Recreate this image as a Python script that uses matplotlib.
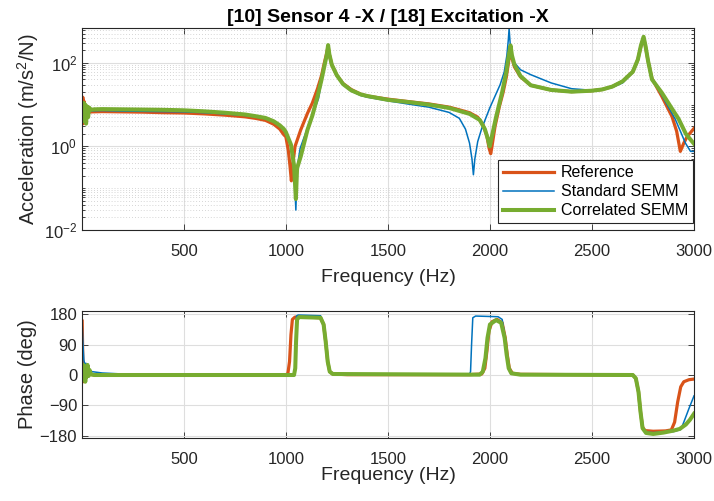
import numpy as np
import matplotlib
matplotlib.use('Agg')
from matplotlib import pyplot as plt
from matplotlib.ticker import FixedLocator, NullLocator, NullFormatter

plt.rcParams['font.family'] = ['Liberation Sans', 'DejaVu Sans']
plt.rcParams['mathtext.fontset'] = 'custom'
plt.rcParams['mathtext.rm'] = 'Liberation Sans'

# -- magnitude (m/s^2/N) --
ref_f = [2, 5, 8, 11, 14, 18, 25, 50, 100, 200, 300, 400, 500, 600, 700, 800, 850, 900,
         940, 970, 990, 1000, 1012, 1020, 1027, 1033, 1045, 1073, 1106, 1130, 1155, 1175, 1188,
         1200, 1207, 1213, 1225, 1250, 1280, 1320, 1367, 1400, 1500, 1600, 1700, 1800, 1850,
         1900, 1940, 1965, 1985, 1996, 2004, 2010, 2025, 2045, 2065, 2080, 2092, 2101, 2108,
         2120, 2150, 2200, 2300, 2400, 2500, 2550, 2600, 2650, 2700, 2725, 2740, 2753, 2762,
         2775, 2794, 2843, 2892, 2915, 2933, 2950, 2966, 2985, 3000]
ref_mag = [4, 15, 3.5, 12, 5, 7.5, 6.5, 6.7, 6.8, 6.7, 6.6, 6.4, 6.3, 6.0, 5.6, 5.1, 4.7, 4.2,
           3.4, 2.6, 1.9, 1.7, 0.8, 0.35, 0.15, 0.35, 1.0, 2.5, 6.2, 11, 24, 50, 97,
           170, 250, 160, 90, 50, 32, 23, 17.7, 16, 13.5, 11.8, 10.4, 8.7, 7.5,
           6.4, 5.0, 3.4, 1.8, 0.9, 0.67, 1.0, 3.0, 8.5, 20, 45, 110, 200, 130,
           80, 46, 29, 22.4, 20.4, 21.5, 23, 27, 36, 61, 120, 250, 400, 250,
           110, 42, 15.5, 5.2, 2.3, 0.76, 1.2, 1.7, 2.2, 2.7]

std_f = [2, 5, 9, 13, 17, 22, 30, 50, 100, 200, 300, 400, 500, 600, 700, 800, 850, 900,
         940, 970, 990, 1000, 1025, 1040, 1049, 1055, 1070, 1100, 1130, 1160, 1188, 1200, 1207,
         1213, 1225, 1250, 1280, 1320, 1367, 1400, 1500, 1600, 1700, 1800, 1850, 1880, 1900,
         1912, 1919, 1926, 1940, 1960, 2000, 2050, 2070, 2083, 2090, 2094, 2100, 2110, 2120,
         2150, 2200, 2300, 2400, 2500, 2600, 2650, 2700, 2725, 2740, 2753, 2762, 2775, 2794,
         2843, 2908, 2958, 2983, 3000]
std_mag = [6, 9, 5, 8, 6, 7.5, 7, 7.1, 7.2, 7.0, 6.9, 6.8, 6.7, 6.4, 6.0, 5.5, 5.1, 4.6,
           3.9, 3.1, 2.4, 2.0, 1.0, 0.3, 0.03, 0.3, 0.9, 2.3, 5.5, 14, 80, 160, 260,
           160, 90, 50, 30, 21, 16.5, 15, 12.3, 10.3, 8.7, 6.5, 4.7, 2.6, 1.2,
           0.5, 0.21, 0.5, 1.3, 2.7, 8.5, 30, 60, 150, 350, 650, 250, 140, 100,
           68, 52, 33, 24, 22, 26, 33, 58, 115, 240, 400, 240, 105, 42,
           16.5, 4.5, 1.2, 0.76, 0.76]

cor_f = [2, 5, 9, 13, 17, 21, 26, 31, 36, 45, 60, 100, 200, 300, 400, 500, 600, 700, 800,
         850, 900, 940, 970, 990, 1000, 1025, 1040, 1049, 1055, 1073, 1106, 1130, 1155, 1175,
         1188, 1200, 1207, 1213, 1225, 1250, 1280, 1320, 1367, 1400, 1500, 1600, 1700, 1800,
         1900, 1950, 1975, 1990, 1999, 2008, 2030, 2060, 2080, 2092, 2101, 2108, 2120, 2150,
         2200, 2300, 2400, 2500, 2550, 2600, 2650, 2700, 2725, 2740, 2753, 2762, 2775, 2794,
         2843, 2892, 2925, 2960, 3000]
cor_mag = [6, 4, 11, 4, 10, 3.5, 9, 5, 8.5, 7.5, 7.7, 7.8, 7.7, 7.6, 7.5, 7.3, 6.9, 6.4, 5.8,
           5.3, 4.8, 4.0, 3.2, 2.6, 2.2, 1.1, 0.35, 0.055, 0.3, 0.58, 2.5, 5.5, 15.5, 40,
           80, 150, 265, 160, 90, 50, 31, 22, 17.5, 16, 13, 11.5, 10, 8.3,
           6.0, 4.3, 2.6, 1.5, 1.0, 1.6, 5, 20, 60, 150, 260, 150, 90, 48,
           29, 22.4, 20.4, 21.5, 23, 27, 36, 61, 120, 260, 420, 260, 110, 40,
           19, 8, 4.5, 2.0, 1.15]

# -- phase (deg) --
ref_pf = [2, 5, 9, 14, 20, 30, 50, 100, 1000, 1010, 1018, 1025, 1032, 1045, 1100, 1170, 1185,
          1195, 1205, 1215, 1230, 1300, 1900, 1960, 1975, 1985, 1995, 2010, 2035, 2060, 2075,
          2085, 2095, 2110, 2150, 2700, 2715, 2728, 2738, 2748, 2760, 2800, 2860, 2889, 2905,
          2920, 2935, 2950, 2975, 3000]
ref_ph = [160, 40, -20, 10, 5, 3, 1, 0, 0, 5, 40, 120, 165, 172, 172, 170, 150,
          100, 40, 10, 3, 1, 1, 3, 20, 70, 130, 158, 165, 155, 110,
          60, 20, 5, 2, 0, -10, -50, -110, -155, -165, -167, -166, -163, -140,
          -80, -35, -20, -14, -12]

std_pf = [2, 6, 10, 15, 20, 30, 50, 100, 200, 400, 1040, 1045, 1048, 1052, 1060, 1170, 1185,
          1195, 1205, 1215, 1230, 1300, 1900, 1905, 1910, 1916, 1930, 2040, 2060, 2075, 2085,
          2095, 2110, 2150, 2700, 2715, 2728, 2738, 2748, 2765, 2800, 2900, 2935, 2950, 2975,
          3000]
std_ph = [150, 90, 45, 30, 35, 18, 10, 6, 3, 1, 0, 5, 90, 175, 178, 176, 150,
          100, 40, 10, 3, 1, 2, 10, 90, 170, 175, 173, 165, 110, 55,
          18, 5, 2, 0, -10, -50, -110, -155, -170, -171, -168, -162, -140, -100,
          -62]

cor_pf = [2, 5, 8, 11, 14, 17, 20, 24, 28, 33, 38, 45, 60, 1040, 1046, 1050, 1055, 1065, 1170,
          1185, 1195, 1205, 1215, 1230, 1950, 1965, 1978, 1988, 2000, 2030, 2055, 2072, 2082,
          2092, 2105, 2150, 2700, 2715, 2728, 2738, 2748, 2765, 2800, 2850, 2900, 2930, 2960,
          2980, 3000]
cor_ph = [20, -15, 30, -10, 25, -20, 20, -5, 30, -3, 15, 2, 0, 0, 20, 100, 165, 172, 170,
          150, 100, 40, 10, 3, 1, 10, 50, 110, 150, 163, 155, 110, 60,
          20, 5, 1, 0, -10, -50, -110, -158, -172, -175, -171, -165, -160, -147,
          -133, -115]

c_ref = '#D95319'
c_std = '#0072BD'
c_cor = '#77AC30'
c_ax = '#262626'

fig = plt.figure(figsize=(7.14, 5.01), dpi=100)
ax1 = fig.add_axes([82/714, 1 - 230/501, 612/714, 202/501])
ax2 = fig.add_axes([82/714, 1 - 438/501, 612/714, 127/501])

ax1.semilogy(ref_f, ref_mag, color=c_ref, lw=2.3, label='Reference')
ax1.semilogy(std_f, std_mag, color=c_std, lw=1.1, label='Standard SEMM')
ax1.semilogy(cor_f, cor_mag, color=c_cor, lw=2.9, label='Correlated SEMM')

ax2.plot(ref_pf, ref_ph, color=c_ref, lw=2.3)
ax2.plot(std_pf, std_ph, color=c_std, lw=1.1)
ax2.plot(cor_pf, cor_ph, color=c_cor, lw=2.9)

ax1.set_xlim(1, 3000)
ax1.set_ylim(1e-2, 680)
ax2.set_xlim(1, 3000)
ax2.set_ylim(-187, 190)

xt = [500, 1000, 1500, 2000, 2500, 3000]
for ax in (ax1, ax2):
    ax.set_xticks(xt)
    ax.xaxis.set_minor_locator(NullLocator())
    ax.tick_params(which='both', direction='in', top=True, right=True,
                   labelsize=12, colors=c_ax, length=4, width=0.6)
    ax.tick_params(which='minor', length=2.5)
    ax.tick_params(axis='x', pad=10)
    for s in ax.spines.values():
        s.set_color(c_ax)
        s.set_linewidth(0.8)
    ax.grid(True, which='major', color='#dedede', lw=0.8)
    ax.set_axisbelow(True)

ax1.set_xlabel('Frequency (Hz)', fontsize=14, color=c_ax, labelpad=7)
ax2.set_xlabel('Frequency (Hz)', fontsize=14, color=c_ax, labelpad=0)

ax1.yaxis.set_major_locator(FixedLocator([1e-2, 1e0, 1e2]))
minors = [m * 10.0 ** k for k in range(-2, 3) for m in range(1, 10)
          if (m, k) not in [(1, -2), (1, 0), (1, 2)]]
ax1.yaxis.set_minor_locator(FixedLocator(minors))
ax1.yaxis.set_minor_formatter(NullFormatter())
ax1.grid(True, which='minor', axis='y', color='#c8c8c8', lw=0.6, ls=(0, (1, 2.5)))
ax1.set_ylabel('Acceleration (m/s$^2$/N)', fontsize=14.5, color=c_ax, labelpad=2)
ax1.set_title('[10] Sensor 4 -X / [18] Excitation -X', fontsize=14, fontweight='bold', pad=4)

ax2.set_yticks([-180, -90, 0, 90, 180])
ax2.set_ylabel('Phase (deg)', fontsize=14.5, color=c_ax, labelpad=2)

leg = ax1.legend(loc='lower right', bbox_to_anchor=(0.998, 0.035), fontsize=11.5,
                 fancybox=False, framealpha=1, edgecolor=c_ax, borderaxespad=0,
                 handlelength=3.2, borderpad=0.3, labelspacing=0.25, handletextpad=0.4)
leg.get_frame().set_linewidth(0.8)

fig.savefig('out.png', dpi=100)
